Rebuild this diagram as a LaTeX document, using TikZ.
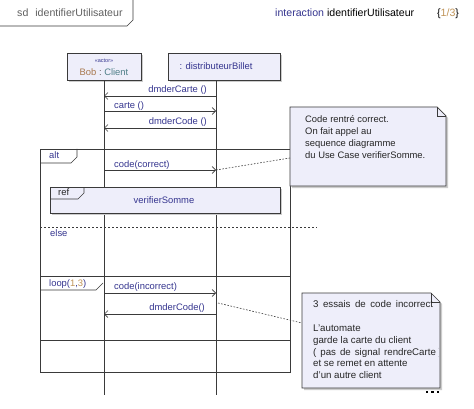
\documentclass[tikz,border=0pt]{standalone}
\usepackage{fontspec}
\setmainfont{Liberation Sans}
\usetikzlibrary{arrows.meta,shadows}
\definecolor{lav}{HTML}{EEEEFA}
\definecolor{msgblue}{HTML}{35358F}
\definecolor{lnc}{HTML}{3A3A3A}
\definecolor{tanc}{HTML}{C09458}
\definecolor{graytxt}{HTML}{606060}
\definecolor{bobc}{HTML}{A8784E}
\definecolor{clientc}{HTML}{4F7F88}
\newcommand\myfs[1]{\fontsize{#1}{#1}\selectfont}
\newcommand\widesp[1]{\hspace{#1}}
\begin{document}
\begin{tikzpicture}[x=1pt,y=-1pt,
  shd/.style={drop shadow={shadow xshift=2pt,shadow yshift=-2pt,fill=black!20,opacity=1}},
  headbox/.style={draw=lnc,fill=lav,line width=0.7pt,shd,inner sep=0pt,anchor=north west},
  lifeline/.style={draw=lnc,line width=0.7pt},
  framebox/.style={draw=lnc,line width=0.7pt},
  msg/.style={draw=lnc,line width=0.7pt,-{Straight Barb[length=3.5pt,width=7pt,line width=0.7pt]}},
  mlabel/.style={font=\myfs{9.4},text=msgblue,inner sep=0pt},
  notebox/.style={draw=lnc,fill=lav,line width=0.7pt,shd},
  notetext/.style={font=\myfs{9.4},text=black!85,inner sep=0pt,anchor=base west},
  notetextb/.style={font=\myfs{9.7},text=black!85,inner sep=0pt,anchor=base west},
  dotconn/.style={draw=lnc,line width=0.6pt,dash pattern=on 1.6pt off 1.6pt},
  elsedash/.style={draw=lnc,line width=0.7pt,dash pattern=on 2pt off 2pt},
  taglabel/.style={font=\myfs{9.4},text=msgblue,inner sep=0pt,anchor=base west}
]
\useasboundingbox (0,0) rectangle (474,409);
\fill[white] (0,0) rectangle (474,409);

% sd frame tab
\draw[framebox] (0,26) -- (127,26) -- (133,20) -- (133,-1);
\node[font=\myfs{10.6},text=graytxt,inner sep=0pt,anchor=base west] (sdlbl) at (17,16.5) {sd\hspace{7pt}identifierUtilisateur};
\node[font=\myfs{10.6},inner sep=0pt,anchor=base west] (interlbl) at (275,16.5) {\textcolor{msgblue}{interaction} identifierUtilisateur};
\node[font=\myfs{10.6},inner sep=0pt,anchor=base west] (pagelbl) at (437,16.5) {\{\textcolor{tanc}{1/3}\}};

% lifeline heads
\node[headbox,minimum width=74pt,minimum height=27pt] (bob) at (67,53) {};
\node[font=\myfs{5.5},text=msgblue,inner sep=0pt] (bobst) at (104,60.5) {«actor»};
\node[font=\myfs{9.4},inner sep=0pt,anchor=base] (boblbl) at (104,75.5) {\textcolor{bobc}{Bob}\ \textcolor{graytxt}{:}\ \textcolor{clientc}{Client}};
\node[headbox,minimum width=112pt,minimum height=27pt] (dist) at (168,53) {};
\node[font=\myfs{9.4},text=msgblue,inner sep=0pt,anchor=base] (distlbl) at (216,69.5) {: distributeurBillet};

\coordinate (bobend) at (104,395);
\coordinate (distend) at (216,395);
\draw[lifeline] (bob.south -| bobend) -- (bobend);
\draw[lifeline] (dist.south -| distend) -- (distend);

% first messages
\coordinate (b1) at (104,96);  \coordinate (d1) at (216,96);
\coordinate (b2) at (104,111); \coordinate (d2) at (216,111);
\coordinate (b3) at (104,128); \coordinate (d3) at (216,128);
\draw[msg] (d1) -- (b1);
\draw[msg] (b2) -- (d2);
\draw[msg] (d3) -- (b3);
\node[mlabel,anchor=base east] (l1) at (207,93) {dmderCarte ()};
\node[mlabel,anchor=base west] (l2) at (114,108.3) {carte ()};
\node[mlabel,anchor=base east] (l3) at (207,125) {dmderCode ()};

% alt frame
\draw[framebox] (40,149) rectangle (290,372);
\draw[framebox] (40,163) -- (71,163) -- (77,157) -- (77,149);
\node[taglabel] (altlbl) at (49,158) {alt};

\coordinate (b4) at (104,170); \coordinate (d4) at (216,170);
\draw[msg] (b4) -- (d4);
\node[mlabel,anchor=base west] (l4) at (114,167.3) {code(correct)};

% ref
\node[headbox,minimum width=230pt,minimum height=26pt] (refbox) at (50,187) {};
\draw[framebox] (50,199) -- (78,199) -- (84,193) -- (84,187);
\node[font=\myfs{9.4},text=black!85,inner sep=0pt,anchor=base west] (reflbl) at (58,196) {ref};
\node[mlabel,anchor=base] (refname) at (164,203.3) {verifierSomme};

% else
\coordinate (else1) at (40,227); \coordinate (else2) at (317,227);
\draw[elsedash] (else1) -- (else2);
\node[taglabel] (elselbl) at (50,236.5) {else};

% loop frame
\draw[framebox] (40,276) rectangle (290,340);
\draw[framebox] (40,290) -- (96,290) -- (103,283);
\node[taglabel] (looplbl) at (49,286.7) {loop(\textcolor{tanc}{1}{,}\textcolor{tanc}{3})};

\coordinate (b5) at (104,293); \coordinate (d5) at (216,293);
\coordinate (b6) at (104,314); \coordinate (d6) at (216,314);
\draw[msg] (b5) -- (d5);
\draw[msg] (d6) -- (b6);
\node[mlabel,anchor=base west] (l5) at (114,289.5) {code(incorrect)};
\node[mlabel,anchor=base east] (l6) at (205,310.7) {dmderCode()};

% note 1
\draw[notebox] (290,107) -- (437,107) -- (446,116) -- (446,186) -- (290,186) -- cycle;
\draw[lnc,line width=0.7pt] (437,107) -- (437,116) -- (446,116);
\coordinate (n1in) at (290,158);
\draw[dotconn] (d4) -- (n1in);
\node[notetext] (n1a) at (305,122.3) {Code rentré correct.};
\node[notetext] (n1b) at (305,134.5) {On fait appel au};
\node[notetext] (n1c) at (305,146.8) {sequence diagramme};
\node[notetext] (n1d) at (305,159) {du Use Case verifierSomme.};

% note 2
\draw[notebox] (302,293) -- (431,293) -- (440,302) -- (440,388) -- (302,388) -- cycle;
\draw[lnc,line width=0.7pt] (431,293) -- (431,302) -- (440,302);
\coordinate (c6) at (218,303);
\coordinate (n2in) at (302,323);
\draw[dotconn] (c6) -- (n2in);
\begin{scope}
\clip (303,294) rectangle (438.5,387);
\node[notetextb] (n2a) at (313,307.5) {3\widesp{4.5pt}essais\widesp{4.5pt}de\widesp{4.5pt}code\widesp{4.5pt}incorrect};
\node[notetextb] (n2b) at (313,331.5) {L'automate};
\node[notetextb] (n2c) at (313,343.3) {garde la carte du client};
\node[notetextb] (n2d) at (313,355) {(\widesp{4pt}pas\widesp{4pt}de\widesp{4pt}signal\widesp{4pt}rendreCarte )};
\node[notetextb] (n2e) at (313,366.7) {et se remet en attente};
\node[notetextb] (n2f) at (313,378.3) {d'un autre client};
\end{scope}

% more dots
\foreach \i/\x in {1/427,2/432.5,3/438} \fill[black] (\x-1.2,390.8) rectangle (\x+1.2,393.2);
\end{tikzpicture}
\end{document}
